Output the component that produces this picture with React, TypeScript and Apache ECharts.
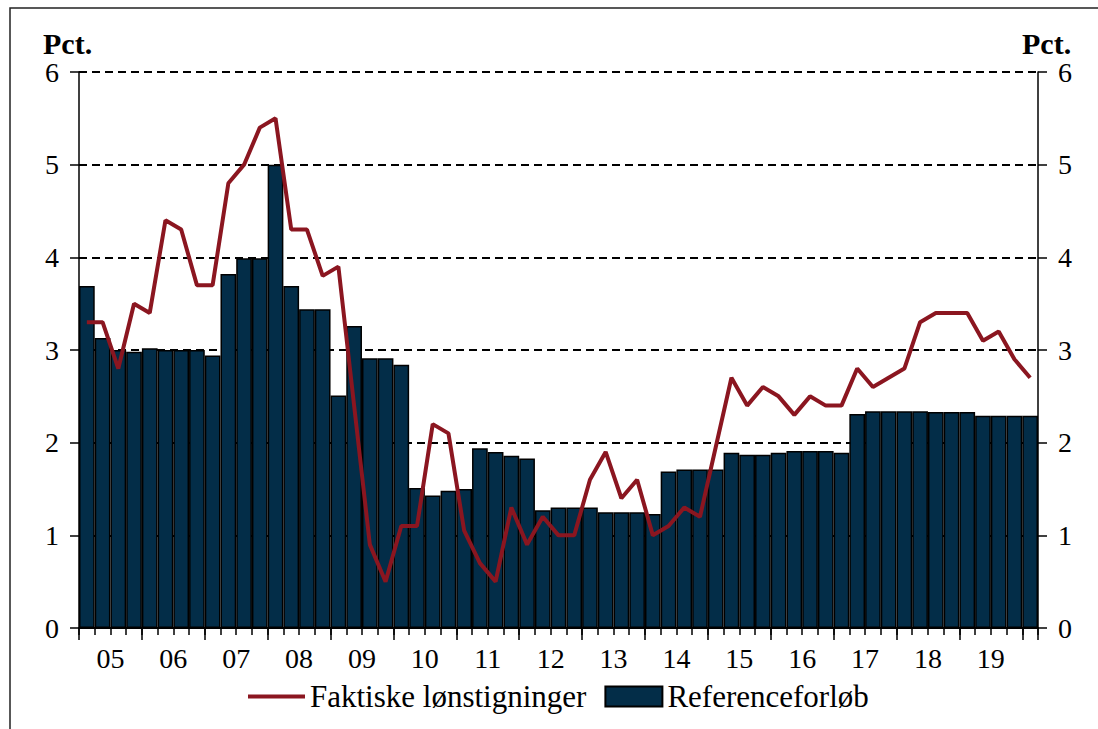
import React, { useEffect, useRef } from "react";
import * as echarts from "echarts";

const yearLabels = ["05", "06", "07", "08", "09", "10", "11", "12", "13", "14", "15", "16", "17", "18", "19"];

// Quarters 2005K1 .. 2020K1 (61 quarters)
const quarterCategories: string[] = [];
yearLabels.forEach((y) => {
  for (let q = 1; q <= 4; q++) quarterCategories.push(`${y}K${q}`);
});
quarterCategories.push("20K1");

// Referenceforløb (bars), pct.
const referenceValues = [
  3.69, 3.13, 3.0, 2.98, 3.02, 3.0, 3.0, 3.0, 2.94, 3.82,
  3.99, 3.99, 5.0, 3.69, 3.44, 3.44, 2.51, 3.26, 2.91, 2.91,
  2.84, 1.51, 1.43, 1.48, 1.5, 1.94, 1.9, 1.86, 1.83, 1.27,
  1.3, 1.3, 1.3, 1.25, 1.25, 1.25, 1.23, 1.69, 1.71, 1.71,
  1.71, 1.89, 1.87, 1.87, 1.89, 1.91, 1.91, 1.91, 1.89, 2.31,
  2.34, 2.34, 2.34, 2.34, 2.33, 2.33, 2.33, 2.29, 2.29, 2.29,
  2.29,
];

// Faktiske lønstigninger (line), pct.
const actualValues = [
  3.3, 3.3, 2.8, 3.5, 3.4, 4.4, 4.3, 3.7, 3.7, 4.8,
  5.0, 5.4, 5.5, 4.3, 4.3, 3.8, 3.9, 2.4, 0.9, 0.5,
  1.1, 1.1, 2.2, 2.1, 1.05, 0.7, 0.5, 1.3, 0.9, 1.2,
  1.0, 1.0, 1.6, 1.9, 1.4, 1.6, 1.0, 1.1, 1.3, 1.2,
  1.95, 2.7, 2.4, 2.6, 2.5, 2.3, 2.5, 2.4, 2.4, 2.8,
  2.6, 2.7, 2.8, 3.3, 3.4, 3.4, 3.4, 3.1, 3.2, 2.9,
  2.7,
];

const yTicks = [0, 1, 2, 3, 4, 5, 6];

const FONT = "'Liberation Serif', 'Times New Roman', serif";
const BAR_COLOR = "#032d48";
const LINE_COLOR = "#8b1620";

export default function App() {
  const ref = useRef<HTMLDivElement>(null);

  useEffect(() => {
    if (!ref.current) return;
    const chart = echarts.init(ref.current, null, { renderer: "svg" });

    const yAxisCommon = {
      type: "value" as const,
      min: yTicks[0],
      max: yTicks[yTicks.length - 1],
      interval: 1,
      axisLine: { show: true, lineStyle: { color: "#000", width: 1.5 } },
      axisTick: { show: true, inside: false, length: 9, lineStyle: { color: "#000", width: 1.5 } },
      axisLabel: { color: "#000", fontFamily: FONT, fontSize: 28, margin: 20 },
    };

    const option: any = {
      animation: false,
      backgroundColor: "#fff",
      grid: { left: 79, right: 60, top: 72, bottom: 101, containLabel: false },
      graphic: [
        {
          type: "rect",
          silent: true,
          shape: { x: 10, y: 8, width: 1200, height: 800 },
          style: { fill: "none", stroke: "#222", lineWidth: 1.5 },
        },
        {
          type: "text",
          left: 43,
          top: 28,
          style: { text: "Pct.", fontFamily: FONT, fontWeight: "bold", fontSize: 30, fill: "#000" },
        },
        {
          type: "text",
          left: 1022,
          top: 28,
          style: { text: "Pct.", fontFamily: FONT, fontWeight: "bold", fontSize: 30, fill: "#000" },
        },
      ],
      legend: {
        left: 243,
        top: 676,
        itemWidth: 57,
        itemHeight: 20,
        itemGap: 18,
        textStyle: { fontFamily: FONT, fontSize: 31, color: "#000" },
        data: [
          { name: "Faktiske lønstigninger", icon: "path://M0,0L57,0L57,4L0,4Z" },
          { name: "Referenceforløb", icon: "rect" },
        ],
      },
      xAxis: [
        {
          type: "category",
          data: quarterCategories,
          boundaryGap: true,
          position: "bottom",
          axisLine: { show: true, lineStyle: { color: "#000", width: 2 } },
          axisTick: { show: true, interval: 0, length: 7, lineStyle: { color: "#000", width: 1.5 } },
          axisLabel: {
            interval: 0,
            margin: 16,
            color: "#000",
            fontFamily: FONT,
            fontSize: 28,
            formatter: (_v: string, idx: number) => {
              const yi = Math.floor(idx / 4);
              if (idx % 4 === 1 && yi < yearLabels.length) return `{a|${yearLabels[yi]}}`;
              return "";
            },
            rich: { a: { fontFamily: FONT, fontSize: 28, color: "#000", padding: [0, 0, 0, 15.7] } },
          },
          splitLine: { show: false },
        },
        {
          type: "category",
          data: quarterCategories,
          boundaryGap: true,
          position: "bottom",
          axisLine: { show: false },
          axisTick: {
            show: true,
            interval: (idx: number) => idx % 4 === 0,
            length: 12,
            lineStyle: { color: "#000", width: 1.5 },
          },
          axisLabel: { show: false },
          splitLine: { show: false },
        },
      ],
      yAxis: [
        {
          ...yAxisCommon,
          position: "left",
          splitLine: { show: true, lineStyle: { color: "#000", width: 2, type: [8, 5] } },
        },
        {
          ...yAxisCommon,
          position: "right",
          splitLine: { show: false },
        },
      ],
      series: [
        {
          name: "Referenceforløb",
          type: "bar",
          xAxisIndex: 0,
          yAxisIndex: 0,
          data: referenceValues,
          barCategoryGap: "0%",
          barGap: "0%",
          itemStyle: { color: BAR_COLOR, borderColor: "#000", borderWidth: 1.5 },
          z: 2,
        },
        {
          name: "Faktiske lønstigninger",
          type: "line",
          xAxisIndex: 0,
          yAxisIndex: 0,
          data: actualValues,
          symbol: "none",
          showSymbol: false,
          lineStyle: { color: LINE_COLOR, width: 4 },
          itemStyle: { color: LINE_COLOR },
          z: 3,
        },
      ],
    };

    chart.setOption(option);
    return () => chart.dispose();
  }, []);

  return (
    <div
      ref={ref}
      style={{ position: "absolute", left: 0, top: 0, width: 1098, height: 729, background: "#fff" }}
    />
  );
}
